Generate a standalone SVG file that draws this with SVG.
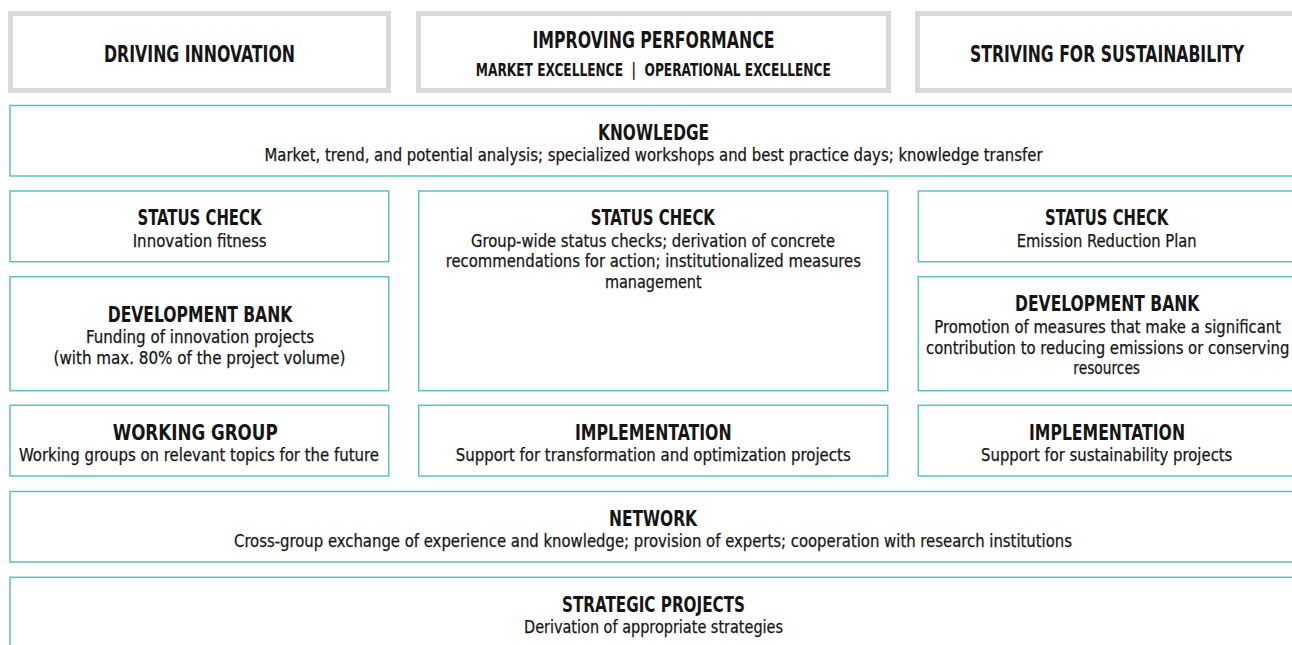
<svg xmlns="http://www.w3.org/2000/svg" width="1292" height="645" viewBox="0 0 1292 645">
<style>
.hdr{fill:#fff;stroke:#d9d9d9;stroke-width:5}
.box{fill:#fff;stroke:#5cc3ba;stroke-width:1.5}
text{font-family:'DejaVu Sans Condensed','DejaVu Sans',sans-serif;font-stretch:condensed;fill:#151515;text-anchor:middle}
.h1{font-size:23px;font-weight:700}
.h2{font-size:18.5px;font-weight:700}
.t{font-size:21px;font-weight:700}
.b{font-size:18px;font-weight:400;stroke:#151515;stroke-width:0.25}
</style>
<rect width="1292" height="645" fill="#fff"/>
<g id="hdr-innovation">
<rect class="hdr" x="10.5" y="13.5" width="378" height="77"/>
<text class="h1" x="199.5" y="62" textLength="191" lengthAdjust="spacingAndGlyphs">DRIVING INNOVATION</text>
</g>
<g id="hdr-performance">
<rect class="hdr" x="418.5" y="13.5" width="470" height="77"/>
<text class="h1" x="653.5" y="48.3" textLength="242" lengthAdjust="spacingAndGlyphs">IMPROVING PERFORMANCE</text>
<text class="h2" x="653.3" y="75.7" textLength="355" lengthAdjust="spacingAndGlyphs" xml:space="preserve">MARKET EXCELLENCE  |  OPERATIONAL EXCELLENCE</text>
</g>
<g id="hdr-sustainability">
<rect class="hdr" x="917.5" y="13.5" width="379" height="77"/>
<text class="h1" x="1107" y="61.7" textLength="274" lengthAdjust="spacingAndGlyphs">STRIVING FOR SUSTAINABILITY</text>
</g>
<g id="knowledge">
<rect class="box" x="10" y="105.5" width="1287" height="70.5"/>
<text class="t" x="653.6" y="140" textLength="111" lengthAdjust="spacingAndGlyphs">KNOWLEDGE</text>
<text class="b" x="653.5" y="161.3" textLength="778" lengthAdjust="spacingAndGlyphs">Market, trend, and potential analysis; specialized workshops and best practice days; knowledge transfer</text>
</g>
<g id="status-innovation">
<rect class="box" x="10" y="191" width="378.7" height="70.7"/>
<text class="t" x="199.5" y="225" textLength="124" lengthAdjust="spacingAndGlyphs">STATUS CHECK</text>
<text class="b" x="199.7" y="246.7" textLength="134" lengthAdjust="spacingAndGlyphs">Innovation fitness</text>
</g>
<g id="devbank-innovation">
<rect class="box" x="10" y="276.7" width="378.7" height="114"/>
<text class="t" x="200" y="322.3" textLength="184.6" lengthAdjust="spacingAndGlyphs">DEVELOPMENT BANK</text>
<text class="b" x="200" y="343.3" textLength="228" lengthAdjust="spacingAndGlyphs">Funding of innovation projects</text>
<text class="b" x="199.5" y="364.3" textLength="292" lengthAdjust="spacingAndGlyphs">(with max. 80% of the project volume)</text>
</g>
<g id="working-group">
<rect class="box" x="10" y="405.3" width="378.7" height="70.7"/>
<text class="t" x="195.2" y="440.3" textLength="165" lengthAdjust="spacingAndGlyphs">WORKING GROUP</text>
<text class="b" x="199" y="461" textLength="360" lengthAdjust="spacingAndGlyphs">Working groups on relevant topics for the future</text>
</g>
<g id="status-performance">
<rect class="box" x="418.7" y="191" width="469" height="199.7"/>
<text class="t" x="652.8" y="225" textLength="124.3" lengthAdjust="spacingAndGlyphs">STATUS CHECK</text>
<text class="b" x="653" y="246.7" textLength="364" lengthAdjust="spacingAndGlyphs">Group-wide status checks; derivation of concrete</text>
<text class="b" x="653.3" y="267.3" textLength="415.3" lengthAdjust="spacingAndGlyphs">recommendations for action; institutionalized measures</text>
<text class="b" x="653.3" y="288.3" textLength="96.7" lengthAdjust="spacingAndGlyphs">management</text>
</g>
<g id="impl-performance">
<rect class="box" x="418.7" y="405.3" width="469" height="70.7"/>
<text class="t" x="653.3" y="440" textLength="156.7" lengthAdjust="spacingAndGlyphs">IMPLEMENTATION</text>
<text class="b" x="653.2" y="461" textLength="395" lengthAdjust="spacingAndGlyphs">Support for transformation and optimization projects</text>
</g>
<g id="status-sustainability">
<rect class="box" x="918.3" y="191" width="378" height="70.7"/>
<text class="t" x="1106.7" y="225" textLength="123.3" lengthAdjust="spacingAndGlyphs">STATUS CHECK</text>
<text class="b" x="1106.7" y="246.7" textLength="180" lengthAdjust="spacingAndGlyphs">Emission Reduction Plan</text>
</g>
<g id="devbank-sustainability">
<rect class="box" x="918.3" y="276.7" width="378" height="114"/>
<text class="t" x="1107.2" y="311" textLength="184.3" lengthAdjust="spacingAndGlyphs">DEVELOPMENT BANK</text>
<text class="b" x="1107.7" y="333.3" textLength="346.7" lengthAdjust="spacingAndGlyphs">Promotion of measures that make a significant</text>
<text class="b" x="1107.7" y="354" textLength="363.3" lengthAdjust="spacingAndGlyphs">contribution to reducing emissions or conserving</text>
<text class="b" x="1106.7" y="374.3" textLength="66.7" lengthAdjust="spacingAndGlyphs">resources</text>
</g>
<g id="impl-sustainability">
<rect class="box" x="918.3" y="405.3" width="378" height="70.7"/>
<text class="t" x="1107" y="440" textLength="156" lengthAdjust="spacingAndGlyphs">IMPLEMENTATION</text>
<text class="b" x="1106.7" y="461" textLength="251.3" lengthAdjust="spacingAndGlyphs">Support for sustainability projects</text>
</g>
<g id="network">
<rect class="box" x="10" y="491.5" width="1287" height="70.5"/>
<text class="t" x="653" y="525.5" textLength="88" lengthAdjust="spacingAndGlyphs">NETWORK</text>
<text class="b" x="653" y="547" textLength="838" lengthAdjust="spacingAndGlyphs">Cross-group exchange of experience and knowledge; provision of experts; cooperation with research institutions</text>
</g>
<g id="strategic-projects">
<rect class="box" x="10" y="577.3" width="1287" height="90"/>
<text class="t" x="653.5" y="611.5" textLength="183" lengthAdjust="spacingAndGlyphs">STRATEGIC PROJECTS</text>
<text class="b" x="653.5" y="633" textLength="259" lengthAdjust="spacingAndGlyphs">Derivation of appropriate strategies</text>
</g>
</svg>
